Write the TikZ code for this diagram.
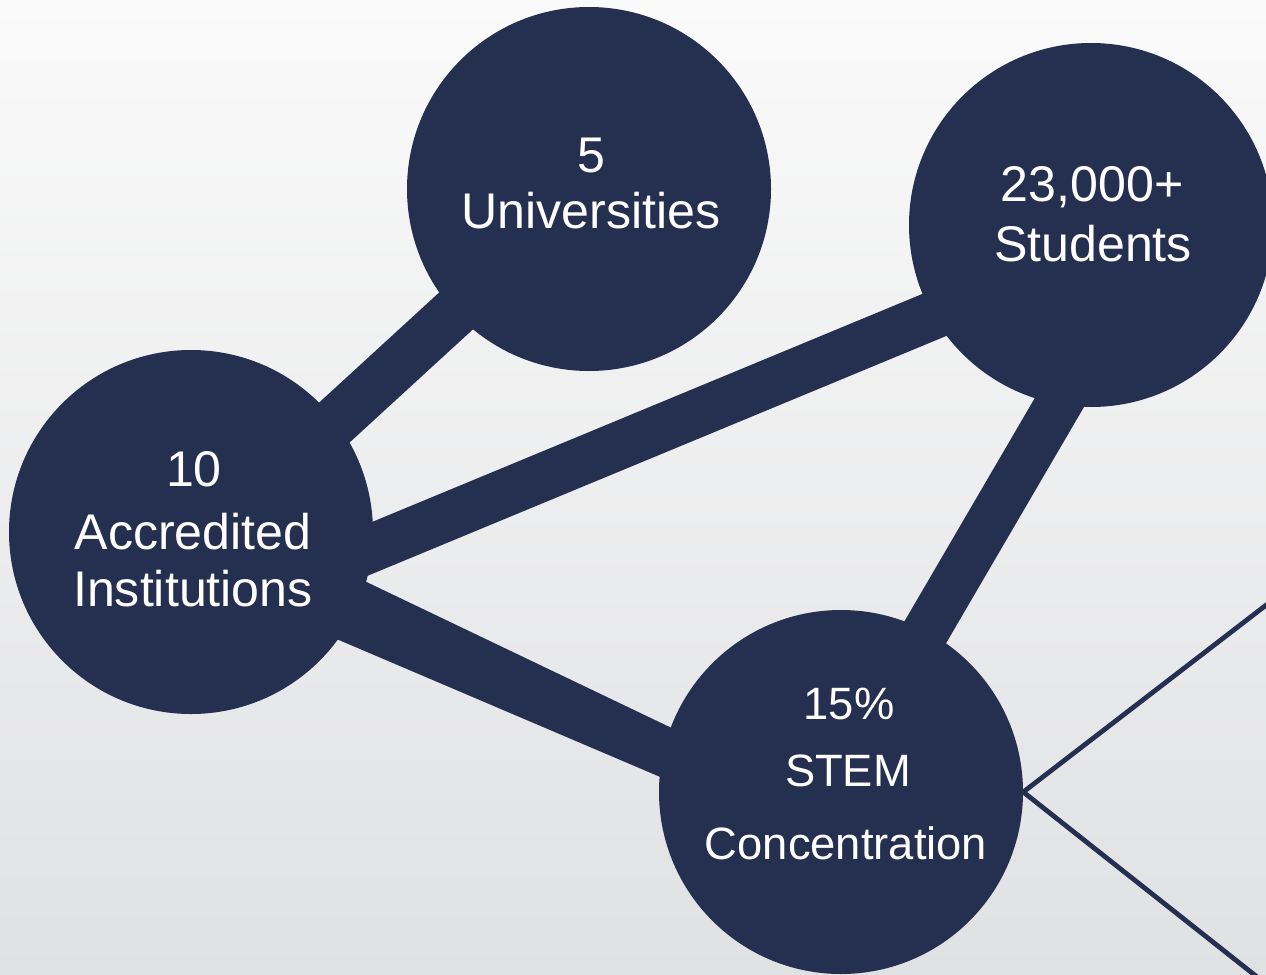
\documentclass[tikz,border=0pt]{standalone}
\usepackage{fontspec}
\setmainfont{Liberation Sans}
\usetikzlibrary{calc}
\definecolor{navy}{RGB}{37,47,80}
\definecolor{bgtop}{RGB}{250,250,250}
\definecolor{bgbot}{RGB}{224,225,227}
\tikzset{
  bubble/.style={circle, fill=navy, inner sep=0pt, minimum size=273pt},
  bigtxt/.style={text=white, anchor=base, inner sep=0pt, font=\fontsize{37.6pt}{40pt}\selectfont},
  smalltxt/.style={text=white, anchor=base, inner sep=0pt, font=\fontsize{34pt}{36pt}\selectfont},
  bar/.style={draw=navy, line cap=butt},
  thin/.style={draw=navy, line width=3.6pt}
}
\begin{document}
\begin{tikzpicture}[x=0.75pt, y=-0.75pt]
\useasboundingbox (0,0) rectangle (1266,974);
\clip (0,0) rectangle (1266,974);
\fill[top color=bgtop, bottom color=bgbot] (0,0) rectangle (1266,974);

% bubble positions
\coordinate (accP) at (191,532);
\coordinate (uniP) at (589,189);
\coordinate (stuP) at (1091,225);
\coordinate (stemP) at (841,792);

% connectors (behind bubbles)
\draw[bar, line width=37.5pt] ($(accP)+(0,22)$) -- (uniP);
\draw[bar, line width=36pt] ($(accP)+(0,91)$) -- ($(stuP)+(0,25)$);
\draw[bar, line width=35.25pt] ($(stemP)+(-9,0)$) -- ($(stuP)+(72,0)$);
\fill[navy] ($(accP)+(0,-34)$) -- ($(stemP)+(0,17)$) -- ($(stemP)+(0,62)$) -- ($(accP)+(0,45)$) -- cycle;

% bubbles
\node[bubble] (acc) at (accP) {};
\node[bubble] (uni) at (uniP) {};
\node[bubble] (stu) at (stuP) {};
\node[bubble] (stem) at (stemP) {};

% thin lines from STEM bubble
\coordinate (tr) at (1300,579);
\coordinate (br) at (1290,1003);
\draw[thin] (stem.east) -- (tr);
\draw[thin] (stem.east) -- (br);

% texts
\node[bigtxt] (uniA) at (591,172) {5};
\node[bigtxt] (uniB) at (591,228) {Universities};
\node[bigtxt] (stuA) at (1092,201) {23,000+};
\node[bigtxt] (stuB) at (1093,261) {Students};
\node[bigtxt] (accA) at (194,486) {10};
\node[bigtxt] (accB) at (193,549) {Accredited};
\node[bigtxt] (accC) at (193,606) {Institutions};
\node[smalltxt] (stemA) at (849,719) {15\%};
\node[smalltxt] (stemB) at (848,786) {STEM};
\node[smalltxt] (stemC) at (846,859) {Concentration};
\end{tikzpicture}
\end{document}
